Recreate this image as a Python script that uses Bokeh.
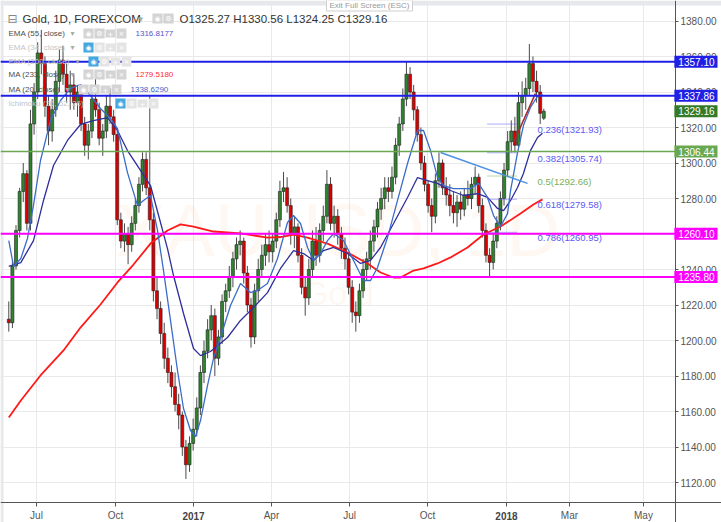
from bokeh.plotting import figure
from bokeh.models import (Range1d, FixedTicker, NumeralTickFormatter, Label, LinearAxis,
                          BoxAnnotation, ColumnDataSource)
from bokeh.core.properties import value
from bokeh.embed import file_html
from bokeh.resources import INLINE

# ---------------- data (Gold, 1D, FOREXCOM) ----------------
# candles sampled every 3 trading days, bar index 0 = first bar of Jul 2016
first_bar = -23
bar_step = 3
opens = [1212, 1210, 1242, 1262, 1284, 1294, 1266, 1322, 1340, 1362,
         1356, 1332, 1318, 1330, 1346, 1358, 1350, 1340, 1344, 1334,
         1340, 1322, 1310, 1318, 1336, 1330, 1314, 1318, 1332, 1326,
         1316, 1268, 1256, 1260, 1254, 1266, 1276, 1288, 1302, 1286,
         1268, 1228, 1218, 1204, 1190, 1182, 1174, 1164, 1158, 1140,
         1130, 1142, 1150, 1162, 1182, 1194, 1206, 1214, 1190, 1202,
         1222, 1228, 1236, 1246, 1254, 1256, 1238, 1220, 1202, 1228,
         1240, 1248, 1254, 1250, 1256, 1268, 1284, 1286, 1276, 1260,
         1264, 1248, 1230, 1224, 1240, 1256, 1248, 1262, 1270, 1288,
         1266, 1270, 1260, 1252, 1246, 1230, 1216, 1214, 1228, 1240,
         1246, 1256, 1264, 1274, 1280, 1286, 1284, 1292, 1310, 1322,
         1336, 1350, 1340, 1330, 1316, 1300, 1288, 1276, 1270, 1290,
         1300, 1286, 1282, 1276, 1272, 1278, 1274, 1282, 1280, 1288,
         1292, 1276, 1262, 1248, 1244, 1256, 1266, 1280, 1296, 1312,
         1318, 1310, 1334, 1338, 1342, 1356, 1346, 1340, 1325.27]
highs = [1222, 1245, 1265, 1286, 1300, 1296, 1330, 1345, 1368, 1375,
         1360, 1338, 1336, 1352, 1364, 1366, 1356, 1352, 1350, 1344,
         1342, 1326, 1322, 1340, 1350, 1334, 1322, 1338, 1342, 1330,
         1318, 1272, 1266, 1264, 1270, 1280, 1292, 1306, 1306, 1338,
         1272, 1236, 1222, 1210, 1196, 1186, 1182, 1170, 1160, 1144,
         1146, 1156, 1168, 1186, 1200, 1212, 1220, 1218, 1206, 1226,
         1232, 1242, 1250, 1258, 1262, 1258, 1242, 1224, 1232, 1246,
         1254, 1260, 1262, 1260, 1272, 1290, 1295, 1292, 1280, 1270,
         1266, 1252, 1236, 1246, 1262, 1264, 1266, 1276, 1296, 1292,
         1276, 1274, 1264, 1258, 1250, 1234, 1222, 1232, 1246, 1250,
         1262, 1268, 1278, 1286, 1292, 1292, 1298, 1314, 1326, 1342,
         1357, 1354, 1344, 1332, 1320, 1304, 1290, 1280, 1294, 1306,
         1302, 1292, 1288, 1284, 1282, 1284, 1286, 1290, 1292, 1298,
         1294, 1280, 1266, 1252, 1260, 1270, 1284, 1300, 1318, 1324,
         1326, 1340, 1346, 1348, 1367, 1360, 1352, 1344, 1330.56]
lows = [1205, 1207, 1240, 1258, 1278, 1262, 1262, 1316, 1336, 1350,
        1326, 1310, 1312, 1326, 1340, 1344, 1334, 1330, 1330, 1326,
        1318, 1304, 1302, 1314, 1326, 1310, 1304, 1314, 1322, 1312,
        1265, 1252, 1250, 1243, 1250, 1262, 1272, 1284, 1282, 1262,
        1222, 1212, 1198, 1184, 1176, 1168, 1160, 1150, 1135, 1122,
        1126, 1138, 1146, 1158, 1176, 1190, 1200, 1180, 1186, 1198,
        1216, 1224, 1230, 1240, 1248, 1232, 1216, 1196, 1198, 1222,
        1236, 1242, 1244, 1244, 1252, 1264, 1278, 1272, 1254, 1252,
        1244, 1226, 1214, 1220, 1236, 1242, 1244, 1256, 1266, 1262,
        1258, 1254, 1246, 1240, 1226, 1210, 1205, 1210, 1224, 1234,
        1240, 1250, 1258, 1268, 1274, 1278, 1280, 1288, 1304, 1318,
        1332, 1336, 1324, 1312, 1296, 1284, 1272, 1261, 1266, 1286,
        1282, 1276, 1270, 1266, 1264, 1268, 1270, 1276, 1274, 1282,
        1272, 1258, 1244, 1236, 1240, 1252, 1262, 1276, 1292, 1306,
        1306, 1308, 1326, 1330, 1338, 1340, 1334, 1322, 1324.25]
closes = [1210, 1242, 1262, 1284, 1294, 1266, 1322, 1340, 1362, 1356,
          1332, 1318, 1330, 1346, 1358, 1350, 1340, 1344, 1334, 1340,
          1322, 1310, 1318, 1336, 1330, 1314, 1318, 1332, 1326, 1316,
          1268, 1256, 1260, 1254, 1266, 1276, 1288, 1302, 1286, 1268,
          1228, 1218, 1204, 1190, 1182, 1174, 1164, 1158, 1140, 1130,
          1142, 1150, 1162, 1182, 1194, 1206, 1214, 1190, 1202, 1222,
          1228, 1236, 1246, 1254, 1256, 1238, 1220, 1202, 1228, 1240,
          1248, 1254, 1250, 1256, 1268, 1284, 1286, 1276, 1260, 1264,
          1248, 1230, 1224, 1240, 1256, 1248, 1262, 1270, 1288, 1266,
          1270, 1260, 1252, 1246, 1230, 1216, 1214, 1228, 1240, 1246,
          1256, 1264, 1274, 1280, 1286, 1284, 1292, 1310, 1322, 1336,
          1350, 1340, 1330, 1316, 1300, 1288, 1276, 1270, 1290, 1300,
          1286, 1282, 1276, 1272, 1278, 1274, 1282, 1280, 1288, 1292,
          1276, 1262, 1248, 1244, 1256, 1266, 1280, 1296, 1312, 1318,
          1310, 1334, 1338, 1342, 1356, 1346, 1340, 1328, 1329.16]
bar_x = list(range(first_bar, first_bar + bar_step * len(closes), bar_step))

# moving averages (bar index, price)
ema55_x = [-23, -13, -2.5, 5.8, 14.1, 25.7, 36.5, 47.3, 58.9, 67.2, 75.5, 86.3, 94.6,
           102.9, 108.7, 113.7, 122.0, 130.3, 136.1, 144.4, 158.5, 169.3, 180.1, 191.7,
           202.5, 213.3, 221.6, 229.9, 238.2, 246.5, 258.1, 268.9, 277.2, 285.5, 296.3,
           307.9, 316.2, 324.5, 332.8, 343.6, 354.4, 366.0, 374.3, 382.6, 387.6, 393.4,
           399.2, 404.1, 409.9, 415.8, 419.9]
ema55_y = [1241.7, 1243.9, 1256.3, 1278.9, 1298.6, 1312.7, 1321.7, 1323.9, 1325.6, 1318.3,
           1307.0, 1295.8, 1287.3, 1266.5, 1251.8, 1236.6, 1215.2, 1195.5, 1191.5, 1193.8,
           1201.7, 1211.3, 1218.6, 1227.0, 1240.6, 1250.7, 1249.0, 1245.1, 1250.7, 1252.4,
           1249.0, 1243.4, 1245.1, 1252.4, 1265.9, 1280.6, 1291.8, 1290.1, 1288.5, 1284.5,
           1281.7, 1282.8, 1280.6, 1274.4, 1273.2, 1278.9, 1286.2, 1294.1, 1307.0, 1314.4,
           1316.8177]
ma20_x = [-23, -19, -13, -7.5, -2.5, 3.3, 11.6, 19.9, 28.2, 36.5, 44.8, 53.1, 61.4, 67.2,
          75.5, 83.8, 88.8, 94.6, 100.4, 105.4, 111.2, 117.0, 122.0, 127.8, 132.0, 136.1,
          141.9, 146.9, 152.7, 161.0, 169.3, 177.6, 183.4, 191.7, 200.0, 208.3, 213.3,
          219.1, 224.9, 229.9, 235.7, 241.5, 246.5, 254.8, 263.1, 271.4, 277.2, 283.0,
          291.3, 299.6, 307.9, 316.2, 321.2, 327.0, 332.8, 337.8, 346.1, 360.2, 366.8,
          374.3, 379.3, 385.1, 390.9, 393.4, 399.2, 404.1, 409.9, 415.8, 419.9]
ma20_y = [1256.3, 1241.7, 1246.2, 1257.5, 1276.1, 1301.4, 1323.9, 1335.2, 1342.0, 1344.2,
          1338.0, 1330.7, 1325.1, 1319.4, 1294.6, 1276.1, 1278.9, 1281.7, 1262.0, 1239.4,
          1211.3, 1183.1, 1161.7, 1149.3, 1145.9, 1154.9, 1174.6, 1189.9, 1201.7, 1219.7,
          1232.1, 1227.0, 1228.2, 1232.1, 1246.2, 1266.5, 1270.4, 1265.9, 1252.4, 1245.1,
          1249.0, 1256.3, 1260.3, 1256.3, 1245.1, 1233.8, 1233.8, 1241.1, 1258.0, 1278.9,
          1299.7, 1318.3, 1318.3, 1307.0, 1291.8, 1287.3, 1285.6, 1285.6, 1288.5, 1280.6,
          1270.4, 1264.2, 1271.5, 1284.5, 1305.9, 1321.1, 1331.3, 1337.5, 1338.629]
ma233_x = [-23, -13, 3.3, 22.4, 36.5, 53.1, 67.2, 80.5, 94.6, 108.7, 119.5, 130.3, 146.9,
           169.3, 191.7, 202.5, 213.3, 224.9, 241.5, 258.1, 274.7, 285.5, 296.3, 302.1,
           312.9, 321.2, 332.8, 343.6, 357.7, 371.0, 385.1, 401.7, 412.4, 419.9]
ma233_y = [1156.6, 1166.2, 1180.3, 1194.4, 1207.3, 1220.3, 1232.7, 1242.8, 1254.6, 1262.0,
           1265.4, 1264.2, 1261.4, 1260.3, 1258.0, 1258.3, 1259.7, 1258.0, 1254.6, 1249.6,
           1243.4, 1238.3, 1235.5, 1235.5, 1239.4, 1240.6, 1243.4, 1246.8, 1252.4, 1259.7,
           1264.2, 1271.5, 1276.6, 1279.518]

# drawn objects
hline_prices = [1357.10, 1337.86, 1306.44, 1260.10, 1235.80]
last_price = 1329.16
fib_ratios = ["0.236", "0.382", "0.5", "0.618", "0.786"]
fib_prices = [1321.93, 1305.74, 1292.66, 1279.58, 1260.95]
trend_blue_x = [335.3, 407.5]
trend_blue_y = [1305.9, 1288.5]
trend_red_x = [395.9, 414.1]
trend_red_y = [1311.5, 1339.2]

# axes
price_ticks = [1120, 1140, 1160, 1180, 1200, 1220, 1240, 1260, 1280, 1300, 1320, 1340, 1360, 1380]
month_tick_pos = [0, 65.6, 130.3, 195, 259.8, 324.5, 390, 442.3, 503.7]
month_tick_labels = ["Jul", "Oct", "2017", "Apr", "Jul", "Oct", "2018", "Mar", "May"]
year_ticks = ["2017", "2018"]

# ---------------- styles / layout ----------------
hline_colors = ["#1f1fe6", "#1f1fe6", "#6aa84f", "#ff00ff", "#ff00ff"]
hline_widths = [2, 2, 1.5, 2, 2]
fib_colors = ["#5a5af5", "#5a5af5", "#79b05a", "#5a5af5", "#5a5af5"]
FONT = "Liberation Sans"
W, H = 721, 522                    # the frame fills the whole canvas
PX_PER_BAR = 1.205
PX_PER_USD = 1.775
X0 = -36 / PX_PER_BAR              # bar index at page x = 0 (Jul 2016 at x = 36)
x_end = X0 + W / PX_PER_BAR
Y0 = 1120 - (H - 482) / PX_PER_USD  # price at page y = 522 (1120 at y = 482)
y_end = Y0 + H / PX_PER_USD
AXIS_X = X0 + 675 / PX_PER_BAR      # price axis drawn at page x = 675
AXIS_Y = Y0 + (H - 502) / PX_PER_USD  # time axis drawn at page y = 502


def sx(X):  # page pixel -> screen units
    return X


def sy(Y):
    return H - Y


p = figure(width=W, height=H, x_range=Range1d(X0, x_end), y_range=Range1d(Y0, y_end),
           x_axis_location=None, y_axis_location=None,
           toolbar_location=None, output_backend="svg",
           min_border_left=0, min_border_top=0, min_border_right=0, min_border_bottom=0,
           background_fill_color="white", border_fill_color="white", outline_line_color=None)

p.xgrid.ticker = FixedTicker(ticks=month_tick_pos)
p.ygrid.ticker = FixedTicker(ticks=price_ticks)
p.xgrid.grid_line_color = "#e9e9e9"
p.ygrid.grid_line_color = "#e9e9e9"

# white axis areas and the thin grey window border (under the axes, over the grid)
for kw in (dict(left=AXIS_X), dict(top=AXIS_Y)):
    p.add_layout(BoxAnnotation(fill_color="white", fill_alpha=1, line_color=None,
                               level="underlay", **kw))
for kw in (dict(right=X0 + 3 / PX_PER_BAR), dict(bottom=y_end - 5 / PX_PER_USD)):
    p.add_layout(BoxAnnotation(fill_color="#e6e8eb", fill_alpha=1, line_color=None,
                               level="underlay", **kw))

yax = LinearAxis(fixed_location=AXIS_X, ticker=FixedTicker(ticks=price_ticks),
                 formatter=NumeralTickFormatter(format="0.00"))
xax = LinearAxis(fixed_location=AXIS_Y, ticker=FixedTicker(ticks=month_tick_pos))
xax.major_label_overrides = {pos: ("" if lab in year_ticks else lab)
                             for pos, lab in zip(month_tick_pos, month_tick_labels)}
xax.major_tick_out = 4
xax.major_label_standoff = 3
yax.major_tick_out = 3
yax.major_label_standoff = 2
for ax in (xax, yax):
    ax.major_tick_in = 0
    ax.minor_tick_line_color = None
    ax.axis_line_color = "#555555"
    ax.major_tick_line_color = "#555555"
    ax.major_label_text_font = FONT
    ax.major_label_text_font_size = "10px"
    ax.major_label_text_color = "#555555"
p.add_layout(yax, "right")
p.add_layout(xax, "below")

# watermark
p.text(x=[(X0 + AXIS_X) / 2], y=[1262], text=["XAUUSD, 1D"], text_font=value(FONT),
       text_font_size="74px", text_color="#f4a46e", text_alpha=0.09,
       text_align="center", text_baseline="middle")
p.text(x=[(X0 + AXIS_X) / 2], y=[1227], text=["Gold"], text_font=value(FONT),
       text_font_size="34px", text_color="#f4a46e", text_alpha=0.09,
       text_align="center", text_baseline="middle")

# candles
up = [c >= o for o, c in zip(opens, closes)]
src = ColumnDataSource(dict(
    x=bar_x, h=highs, l=lows,
    top=[max(o, c) for o, c in zip(opens, closes)],
    bottom=[min(o, c) for o, c in zip(opens, closes)],
    color=["#2f842f" if u else "#dd0000" for u in up]))
p.segment(x0="x", y0="l", x1="x", y1="h", source=src, line_color="#4a4a4a", line_width=1)
p.vbar(x="x", width=2.5, top="top", bottom="bottom", source=src,
       fill_color="color", line_color="#202020", line_width=0.6)

# indicators
p.line(ma233_x, ma233_y, line_color="#ff1a1a", line_width=1.8)
p.line(ema55_x, ema55_y, line_color="#2e2e9c", line_width=1.3)
p.line(ma20_x, ma20_y, line_color="#3b6cc9", line_width=1.3)

# trend lines
p.line(trend_blue_x, trend_blue_y, line_color="#4a90e2", line_width=1.5)
p.line(trend_red_x, trend_red_y, line_color="#a52a2a", line_width=1.5)

# fibonacci levels
p.segment(x0=374.3, x1=399.2, y0=fib_prices, y1=fib_prices, line_color=fib_colors,
          line_dash="1 1", line_width=1)
p.text(x=415.8, y=fib_prices, text=[f"{r}({v:.2f})" for r, v in zip(fib_ratios, fib_prices)],
       text_color=fib_colors, text_font=value(FONT), text_font_size="9.5px",
       text_baseline="top", text_align="left")

# horizontal levels, from the left edge to the price axis
p.segment(x0=X0, x1=AXIS_X, y0=hline_prices, y1=hline_prices,
          line_color=hline_colors, line_width=hline_widths)

# price boxes on the axis
box_pad = {"left": 4, "right": 3, "top": 2, "bottom": 2}
for price, col in zip(hline_prices + [last_price], hline_colors + ["#357a26"]):
    p.add_layout(Label(x=sx(717), y=price, x_units="screen", y_units="data",
                       text=f"{price:.2f}", text_font=FONT, text_font_size="10px",
                       text_color="white", text_align="right", text_baseline="middle",
                       background_fill_color=col, padding=box_pad))

# bold year labels under the time axis
for pos, lab in zip(month_tick_pos, month_tick_labels):
    if lab in year_ticks:
        p.add_layout(Label(x=pos, y=sy(515), x_units="data", y_units="screen", text=lab,
                           text_font=FONT, text_font_size="10px", text_font_style="bold",
                           text_color="#444444", text_align="center", text_baseline="middle"))


def txt(X, Y, s, size="8px", color="#4d4d4d", font=FONT, style="normal"):
    p.add_layout(Label(x=sx(X), y=sy(Y), x_units="screen", y_units="screen", text=s,
                       text_font=font, text_font_size=size, text_color=color,
                       text_font_style=style, text_align="left", text_baseline="middle"))


def icon(cx, cy, sym, bg):
    p.add_layout(Label(x=sx(cx), y=sy(cy), x_units="screen", y_units="screen", text=sym,
                       text_font="DejaVu Sans", text_font_size="7px", text_color="white",
                       text_align="center", text_baseline="middle",
                       background_fill_color=bg,
                       padding={"left": 2, "right": 2, "top": 1, "bottom": 1}))


GRAY_ICON = "#d4d4d4"
LIGHT_ICON = "#e4e4e4"
EYE_BLUE = "#45a7e0"
SYMS = ["\u25c9", "\u2699", "+", "\u00d7"]

# header
txt(7, 18, "\u229f", size="12px", color="#888888", font="DejaVu Sans")
txt(22, 18, "Gold, 1D, FOREXCOM", size="11.5px", color="#333333")
txt(138, 18, "\u25be", size="9px", color="#aaaaaa", font="DejaVu Sans")
icon(157, 18, SYMS[0], GRAY_ICON)
icon(168, 18, SYMS[1], GRAY_ICON)
txt(179, 18, "O1325.27  H1330.56  L1324.25  C1329.16", size="11.5px", color="#333333")

# indicator legend rows: (label, y, active, arrow x, first icon centre, value, value colour, value x)
legend_rows = [
    ("EMA (55, close)", 33, True, 70, 88, "1316.8177", "#5353c6", 135),
    ("EMA (34, close)", 47, False, 70, 88, None, None, None),
    ("EMA (200, close)", 61, False, 75, 93, None, None, None),
    ("MA (233, close)", 74, True, 70, 88, "1279.5180", "#ff2a2a", 135),
    ("MA (20, close)", 89, True, 65, 83, "1338.6290", "#3c64c8", 130),
    ("Ichimoku (26, 52, 26)", 103, False, None, 120, None, None, None),
]
for lab, Y, active, ax_, ic, val, vcol, vx in legend_rows:
    txt(8, Y, lab, color="#4d4d4d" if active else "#c4c4c4")
    if ax_ is not None:
        txt(ax_, Y, "\u25be", size="8px", color="#aaaaaa", font="DejaVu Sans")
    for j, s in enumerate(SYMS):
        if active:
            bg = GRAY_ICON
        else:
            bg = EYE_BLUE if j == 0 else LIGHT_ICON
        icon(ic + 11 * j, Y, s, bg)
    if val is not None:
        txt(vx, Y, val, color=vcol)

# full screen hint
p.add_layout(Label(x=sx(326), y=sy(5), x_units="screen", y_units="screen",
                   text="Exit Full Screen (ESC)", text_font=FONT, text_font_size="8px",
                   text_color="#9a9a9a", text_align="left", text_baseline="middle",
                   background_fill_color="white", border_line_color="#cfcfcf",
                   padding={"left": 3, "right": 3, "top": 1, "bottom": 1}))

open("out.html", "w").write(file_html(p, INLINE))
